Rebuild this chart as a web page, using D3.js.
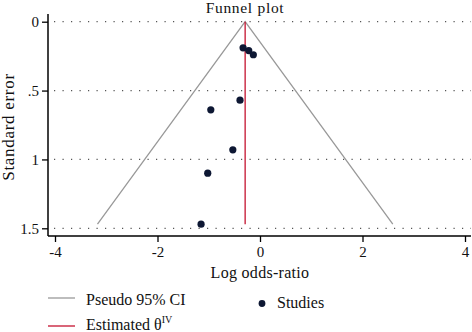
<!DOCTYPE html>
<html>
<head>
<meta charset="utf-8">
<script src="https://cdn.jsdelivr.net/npm/d3@7"></script>
<style>
  body { margin: 0; background: #fff; }
  svg text { font-family: "Liberation Serif", "DejaVu Serif", serif; fill: #111; }
</style>
</head>
<body>
<div id="chart"></div>
<script>
// ---- data ----
const logOR = [-0.33, -0.22, -0.13, -0.39, -0.96, -0.53, -1.02, -1.15];
const stdErr = [0.19, 0.21, 0.24, 0.57, 0.64, 0.93, 1.10, 1.47];
const thetaIV = -0.29;
const xTicks = [-4, -2, 0, 2, 4];
const yTicks = [0, 0.5, 1, 1.5];
const yTickLabels = ["0", ".5", "1", "1.5"];

const W = 472, H = 332;
const svg = d3.select("#chart").append("svg")
  .attr("width", W).attr("height", H);

// scales
const x = d3.scaleLinear().domain([-4, 4]).range([55, 465]);
const y = d3.scaleLinear().domain([0, 1.5]).range([21.7, 228.3]);
const plotL = 48, plotR = 471, plotT = 14, plotB = 236;

// title
svg.append("text")
  .attr("x", 245).attr("y", 12.5)
  .attr("text-anchor", "middle")
  .attr("font-size", 15.5)
  .attr("letter-spacing", 0.7)
  .text("Funnel plot");

// dotted gridlines
svg.append("g").selectAll("line")
  .data(yTicks)
  .join("line")
  .attr("x1", plotL + 6).attr("x2", plotR)
  .attr("y1", d => y(d)).attr("y2", d => y(d))
  .attr("stroke", "#555")
  .attr("stroke-width", 1.2)
  .attr("stroke-dasharray", "1.2,7.3");

// funnel (pseudo 95% CI)
const seMax = d3.max(stdErr);
const funnel = [
  [thetaIV - 1.96 * seMax, seMax],
  [thetaIV, 0],
  [thetaIV + 1.96 * seMax, seMax]
];
svg.append("path")
  .attr("d", d3.line().x(d => x(d[0])).y(d => y(d[1]))(funnel))
  .attr("fill", "none")
  .attr("stroke", "#999")
  .attr("stroke-width", 1.3);

// estimated theta
svg.append("line")
  .attr("x1", x(thetaIV)).attr("x2", x(thetaIV))
  .attr("y1", y(0)).attr("y2", y(seMax))
  .attr("stroke", "#c4122f")
  .attr("stroke-width", 1.3);

// studies
svg.append("g").selectAll("circle")
  .data(logOR.map((v, i) => ({ v, se: stdErr[i] })))
  .join("circle")
  .attr("cx", d => x(d.v))
  .attr("cy", d => y(d.se))
  .attr("r", 3.6)
  .attr("fill", "#0d1733");

// axes
const yAxis = svg.append("g")
  .attr("transform", `translate(${plotL},0)`)
  .call(d3.axisLeft(y).tickValues(yTicks).tickFormat((d, i) => yTickLabels[i]).tickSize(6).tickPadding(3));
yAxis.select(".domain").attr("d", `M0,${plotT}V${plotB}`).attr("stroke", "#000").attr("stroke-width", 1.5);
yAxis.selectAll(".tick line").attr("stroke", "#000").attr("stroke-width", 1.3);
yAxis.selectAll(".tick text").attr("font-size", 15).attr("font-family", "Liberation Serif, serif").attr("fill", "#111");

const xAxis = svg.append("g")
  .attr("transform", `translate(0,${plotB})`)
  .call(d3.axisBottom(x).tickValues(xTicks).tickFormat(d => String(d)).tickSize(6).tickPadding(4));
xAxis.select(".domain").attr("d", `M${plotL},0H${plotR}`).attr("stroke", "#000").attr("stroke-width", 1.5);
xAxis.selectAll(".tick line").attr("stroke", "#000").attr("stroke-width", 1.3);
xAxis.selectAll(".tick text").attr("font-size", 15).attr("font-family", "Liberation Serif, serif").attr("fill", "#111");

// axis titles
svg.append("text")
  .attr("x", 260).attr("y", 278)
  .attr("text-anchor", "middle")
  .attr("font-size", 16)
  .attr("letter-spacing", 0.3)
  .text("Log odds-ratio");

svg.append("text")
  .attr("transform", "translate(14,127) rotate(-90)")
  .attr("text-anchor", "middle")
  .attr("font-size", 17)
  .attr("letter-spacing", 0.7)
  .text("Standard error");

// legend
const lg = svg.append("g");
lg.append("line").attr("x1", 48).attr("x2", 75).attr("y1", 298).attr("y2", 298)
  .attr("stroke", "#999").attr("stroke-width", 1.3);
lg.append("text").attr("x", 86).attr("y", 305).attr("font-size", 16).text("Pseudo 95% CI");

lg.append("line").attr("x1", 48).attr("x2", 75).attr("y1", 326).attr("y2", 326)
  .attr("stroke", "#c4122f").attr("stroke-width", 1.3);
const est = lg.append("text").attr("x", 86).attr("y", 330).attr("font-size", 16);
est.append("tspan").text("Estimated θ");
est.append("tspan").attr("font-size", 10).attr("dy", -7).text("IV");

lg.append("circle").attr("cx", 262).attr("cy", 303.5).attr("r", 3.4).attr("fill", "#0d1733");
lg.append("text").attr("x", 277).attr("y", 308).attr("font-size", 16).text("Studies");
</script>
</body>
</html>
